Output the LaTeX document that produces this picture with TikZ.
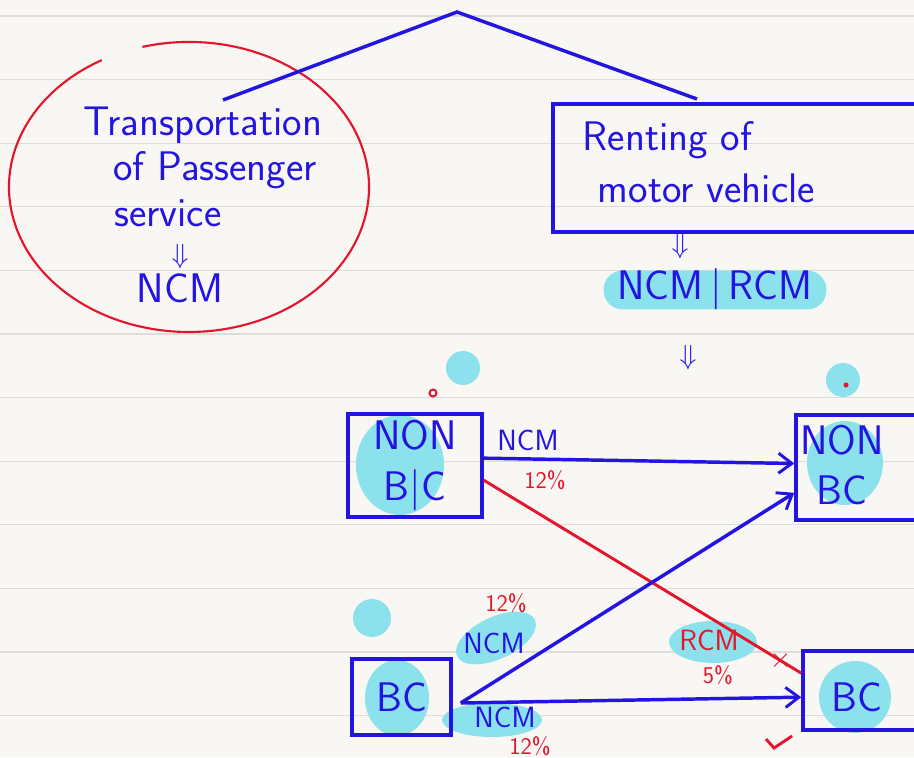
\documentclass[tikz,border=0pt]{standalone}
\usetikzlibrary{arrows.meta}
\definecolor{paper}{RGB}{249,247,243}
\definecolor{rule}{RGB}{222,220,215}
\definecolor{ink}{RGB}{35,20,225}
\definecolor{redink}{RGB}{228,22,45}
\definecolor{hilite}{RGB}{140,226,236}
\tikzset{every picture/.style={line width=0.75pt}}

\begin{document}
\begin{tikzpicture}[x=0.75pt,y=0.75pt,yscale=-1,xscale=1,
  inkbox/.style={draw=ink,line width=2.6pt},
  inkline/.style={draw=ink,line width=2.6pt},
  redline/.style={draw=redink,line width=2.2pt},
  inkarrow/.style={inkline,-{Straight Barb[length=10pt,width=15pt,line width=2.2pt]}},
  hand/.style={text=ink,font=\fontsize{31}{38}\selectfont\sffamily,align=center},
  lbl/.style={text=ink,inner sep=1pt,font=\fontsize{22}{26}\selectfont\sffamily},
  pct/.style={text=redink,inner sep=1pt,font=\fontsize{18}{20}\selectfont\sffamily}]
\useasboundingbox (0,0) rectangle (914,757);
\clip (0,0) rectangle (914,757);

%Paper with rules
\fill[paper] (0,0) rectangle (914,757);
\foreach \k in {0,...,11}
  \draw[rule,line width=1pt] (0,{16+63.6*\k}) -- (914,{16+63.6*\k});

%Shape: Ellipse (open at top)
\draw[redink,line width=1.6pt] (142.4,46.9) arc[start angle=-105,end angle=241,x radius=180,y radius=145];

%Straight Lines (the split at the top)
\coordinate (apex) at (457,12);
\coordinate (tl) at (223,100);
\coordinate (tr) at (697,99);
\draw[inkline] (tl) -- (apex) -- (tr);

% Text Node
\node[hand] (trans1) at (203,125) {Transportation};
\node[hand] (trans2) at (215,170) {of Passenger};
\node[hand] (trans3) at (168,213) {service};
\node[lbl,inner sep=0pt] (imp1) at (180,257) {$\Downarrow$};
\node[hand] (ncm1) at (180,288) {NCM};

%Shape: Rectangle
\node[inkbox,minimum width=279pt,minimum height=96pt] (renting) at (739,168) {};
\node[hand,anchor=west] (rent1) at (578,140) {Renting of};
\node[hand,anchor=west] (rent2) at (593,188) {motor vehicle};
\node[lbl,inner sep=0pt] (imp2) at (680,247) {$\Downarrow$};
\node[fill=hilite,rounded corners=14pt,minimum width=167pt,minimum height=29pt] (hl1) at (715,290) {};
\node[hand] (ncmrcm) at (715,289) {NCM\,|\,RCM};
\node[lbl,inner sep=0pt] (imp3) at (688,358) {$\Downarrow$};

%Highlights
\fill[hilite] (463,368) circle (17);
\fill[hilite] (843,380) circle (17);
\fill[hilite] (372,618) circle (19);
\fill[hilite] (400,465) ellipse (44 and 50);
\fill[hilite] (845,463) ellipse (38 and 42);
\fill[hilite] (397,698) ellipse (32 and 38);
\fill[hilite] (855,697) ellipse (36 and 36);
\fill[hilite,rotate around={-25:(496,638)}] (496,638) ellipse (43 and 21);
\fill[hilite] (492,720) ellipse (50 and 17);
\fill[hilite] (713,642) ellipse (44 and 21);
\draw[redink,line width=1.5pt] (433,393) circle (3.5);
\fill[redink] (846,385) circle (2.5);

%Shape: Rectangle
\node[inkbox,hand,minimum width=100.5pt,minimum height=77pt] (nonbcL) at (415,465.5) {NON\\B|C};
\node[inkbox,minimum width=96.75pt,minimum height=78.75pt] (nonbcR) at (860.5,467.5) {};
\node[hand] (nonbcRtxt) at (842,465) {NON\\BC};
\node[inkbox,hand,minimum width=74.25pt,minimum height=57pt] (bcL) at (401.5,697) {BC};
\node[inkbox,minimum width=91.5pt,minimum height=59pt] (bcR) at (864,690.5) {};
\node[hand] (bcRtxt) at (857,697) {BC};

%Straight Lines
\draw[inkarrow] ([yshift=-5.5pt]nonbcL.east) -- ([yshift=-3pt]nonbcR.west);
\draw[redline] ([yshift=11pt]nonbcL.east) -- ([yshift=-13pt]bcR.west)
  node[pos=0.935,text=redink,font=\fontsize{20}{20}\selectfont] (cross) {$\times$};
\draw[inkarrow] ([shift={(6pt,4.5pt)}]bcL.east) -- ([yshift=19pt]nonbcR.west);
\draw[inkarrow] ([shift={(6pt,4.5pt)}]bcL.east) -- ([yshift=5pt]bcR.west);

% Text Node
\node[lbl] (ncm2) at (528,440) {NCM};
\node[pct] (p1) at (545,480) {12\%};
\node[lbl] (ncm3) at (494,643) {NCM};
\node[pct] (p2) at (506,603) {12\%};
\node[lbl] (ncm4) at (505,717) {NCM};
\node[pct] (p3) at (530,746) {12\%};
\node[lbl,text=redink] (rcm) at (709,640) {RCM};
\node[pct] (p4) at (718,675) {5\%};

%Curve Lines (tick)
\draw[redline] (766,739) -- (774,748) -- (792,736);

\end{tikzpicture}
\end{document}
